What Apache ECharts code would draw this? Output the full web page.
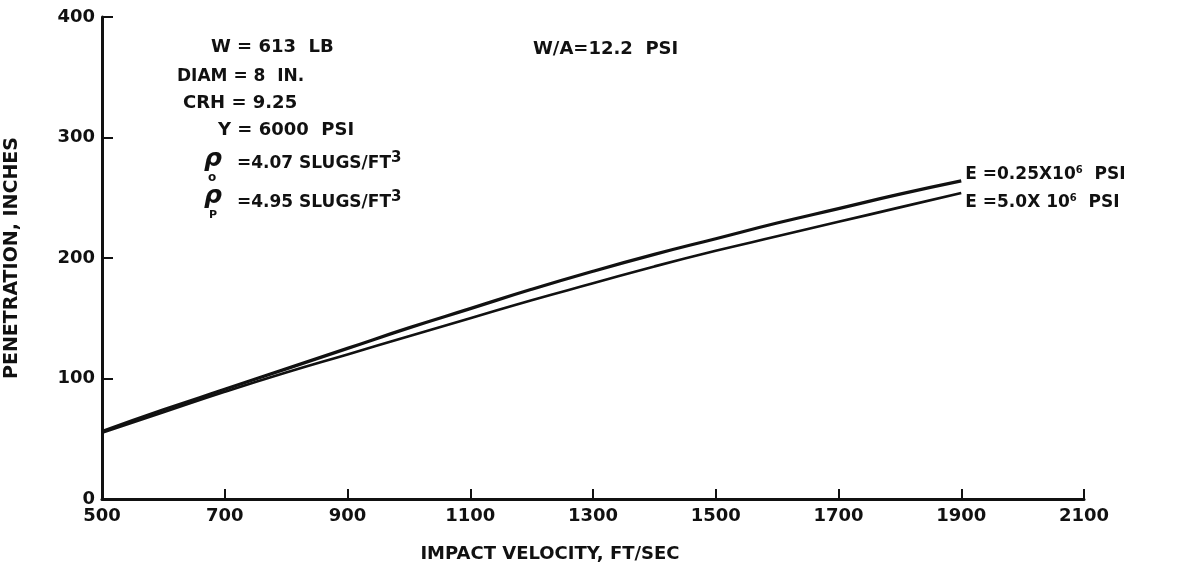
<!DOCTYPE html>
<html>
<head>
<meta charset="utf-8">
<script src="https://cdn.jsdelivr.net/npm/echarts@6/dist/echarts.min.js"></script>
<style>
  html, body { margin: 0; padding: 0; background: #fff; }
  #chart { width: 1183px; height: 567px; }
</style>
</head>
<body>
<div id="chart"></div>
<script>
// Impact velocity (ft/sec) at which penetration was computed
const velocity = [500, 600, 700, 800, 900, 1000, 1100, 1200, 1300, 1400, 1500, 1600, 1700, 1800, 1900];
// Penetration (inches) for the two target moduli
const penLowModulus  = [56, 74, 91, 108, 125, 142, 158, 174, 189, 203, 216, 229, 241, 253, 264]; // E = 0.25x10^6 psi
const penHighModulus = [55, 72, 89, 105, 120, 135, 150, 165, 179, 193, 206, 218, 230, 242, 254]; // E = 5.0x10^6 psi
const xTicks = [500, 700, 900, 1100, 1300, 1500, 1700, 1900, 2100];
const yTicks = [0, 100, 200, 300, 400];

const FONT = '"DejaVu Sans", "Open Sans", sans-serif';
const INK = '#111';

const chart = echarts.init(document.getElementById('chart'), null, { renderer: 'canvas' });

function pairs(xs, ys) { return xs.map((x, i) => [x, ys[i]]); }

const baseText = { fontFamily: FONT, fontSize: 18, fontWeight: 'bold', color: INK };
const supStyle = { fontFamily: FONT, fontSize: 10, fontWeight: 'bold', color: INK, verticalAlign: 'top', padding: [0, 0, 9, 0] };
const cubeStyle = { font: 'bold 15px ' + FONT, fill: INK, verticalAlign: 'top', padding: [0, 0, 10, 0] };

chart.setOption({
  backgroundColor: '#fff',
  animation: false,
  grid: { left: 102, right: 99, top: 17, bottom: 68, containLabel: false, outerBoundsMode: 'none' },
  xAxis: {
    type: 'value',
    min: xTicks[0], max: xTicks[xTicks.length - 1], interval: 200,
    name: 'IMPACT VELOCITY, FT/SEC',
    nameLocation: 'middle', nameGap: 46,
    nameTextStyle: Object.assign({}, baseText, { fontSize: 18, padding: [0, 86, 0, 0] }),
    axisLine: { show: true, onZero: false, lineStyle: { color: INK, width: 3 } },
    axisTick: { show: true, inside: true, length: 10, lineStyle: { color: INK, width: 2 } },
    axisLabel: Object.assign({}, baseText, { margin: 8, formatter: v => String(v) }),
    splitLine: { show: false }
  },
  yAxis: {
    type: 'value',
    min: yTicks[0], max: yTicks[yTicks.length - 1], interval: 100,
    name: 'PENETRATION, INCHES',
    nameLocation: 'middle', nameGap: 80,
    nameTextStyle: Object.assign({}, baseText, { fontSize: 19 }),
    axisLine: { show: true, onZero: false, lineStyle: { color: INK, width: 3 } },
    axisTick: { show: true, inside: true, length: 11, lineStyle: { color: INK, width: 2 } },
    axisLabel: Object.assign({}, baseText, { margin: 7, formatter: v => String(v) }),
    splitLine: { show: false }
  },
  series: [
    {
      type: 'line', name: 'E=0.25X10^6 PSI',
      data: pairs(velocity, penLowModulus),
      smooth: true, showSymbol: false,
      lineStyle: { color: INK, width: 3.2 },
      endLabel: {
        show: true, offset: [0, -6], distance: 4,
        formatter: 'E =0.25X10{s|6}  PSI',
        fontFamily: FONT, fontSize: 17, fontWeight: 'bold', color: INK,
        rich: { s: supStyle }
      }
    },
    {
      type: 'line', name: 'E=5.0X10^6 PSI',
      data: pairs(velocity, penHighModulus),
      smooth: true, showSymbol: false,
      lineStyle: { color: INK, width: 2.6 },
      endLabel: {
        show: true, offset: [0, 10], distance: 4,
        formatter: 'E =5.0X 10{s|6}  PSI',
        fontFamily: FONT, fontSize: 17, fontWeight: 'bold', color: INK,
        rich: { s: supStyle }
      }
    }
  ],
  graphic: [
    { type: 'text', left: 211, top: 38, style: { text: 'W = 613  LB', font: 'bold 18px ' + FONT, fill: INK } },
    { type: 'text', left: 177, top: 68, style: { text: 'DIAM = 8  IN.', font: 'bold 17px ' + FONT, fill: INK } },
    { type: 'text', left: 183, top: 94, style: { text: 'CRH = 9.25', font: 'bold 18px ' + FONT, fill: INK } },
    { type: 'text', left: 218, top: 121, style: { text: 'Y = 6000  PSI', font: 'bold 18px ' + FONT, fill: INK } },
    { type: 'text', left: 204, top: 147, style: { text: 'ρ', font: 'italic bold 25px ' + FONT, fill: INK } },
    { type: 'text', left: 208, top: 172, style: { text: 'o', font: 'bold 12px ' + FONT, fill: INK } },
    { type: 'text', left: 237, top: 151, style: {
        text: '=4.07 SLUGS/FT{s|3}', font: 'bold 17px ' + FONT, fill: INK, rich: { s: cubeStyle } } },
    { type: 'text', left: 204, top: 184, style: { text: 'ρ', font: 'italic bold 25px ' + FONT, fill: INK } },
    { type: 'text', left: 209, top: 210, style: { text: 'P', font: 'bold 11px ' + FONT, fill: INK } },
    { type: 'text', left: 237, top: 190, style: {
        text: '=4.95 SLUGS/FT{s|3}', font: 'bold 17px ' + FONT, fill: INK, rich: { s: cubeStyle } } },
    { type: 'text', left: 533, top: 40, style: { text: 'W/A=12.2  PSI', font: 'bold 18px ' + FONT, fill: INK } }
  ]
});
</script>
</body>
</html>
